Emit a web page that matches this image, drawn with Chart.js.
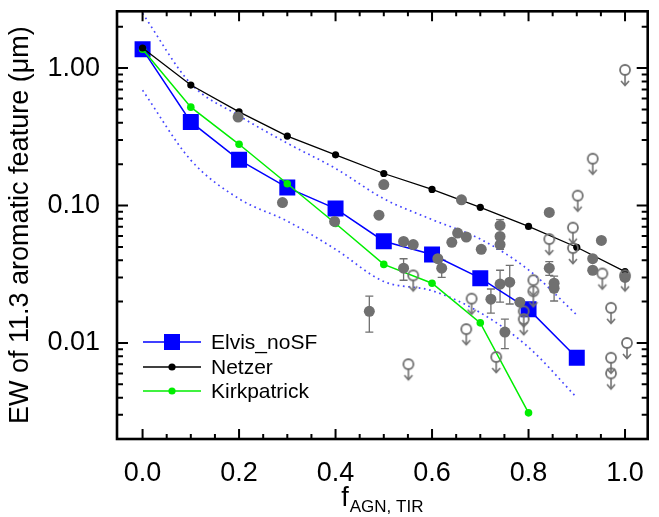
<!DOCTYPE html>
<html><head><meta charset="utf-8">
<script src="https://cdn.jsdelivr.net/npm/chart.js@4/dist/chart.umd.min.js"></script>
<style>html,body{margin:0;padding:0;background:#fff;overflow:hidden}canvas{display:block}</style>
</head><body>
<canvas id="c" width="659" height="517"></canvas>
<script>
// ---------------- data ----------------
const xTickVals = [0.0, 0.2, 0.4, 0.6, 0.8, 1.0];
const xTickLabels = ['0.0', '0.2', '0.4', '0.6', '0.8', '1.0'];
const yTickVals = [0.01, 0.1, 1];
const yTickLabels = ['0.01', '0.10', '1.00'];

const elvisX = [0.0, 0.1, 0.2, 0.3, 0.4, 0.5, 0.6, 0.7, 0.8, 0.9];
const elvisY = [1.37, 0.406, 0.215, 0.135, 0.095, 0.055, 0.044, 0.0296, 0.0176, 0.0078];
const elvisUpper = [2.5, 0.77, 0.45, 0.284, 0.186, 0.112, 0.079, 0.057, 0.034, 0.016];
const elvisLower = [0.69, 0.214, 0.112, 0.077, 0.048, 0.028, 0.024, 0.0166, 0.0093, 0.0040];

const netzerX = [0.0, 0.1, 0.2, 0.3, 0.4, 0.5, 0.6, 0.7, 0.8, 0.9, 1.0];
const netzerY = [1.40, 0.753, 0.48, 0.32, 0.234, 0.171, 0.131, 0.097, 0.0705, 0.0497, 0.033];

const kirkX = [0.0, 0.1, 0.2, 0.3, 0.4, 0.5, 0.6, 0.7, 0.8];
const kirkY = [1.37, 0.52, 0.279, 0.144, 0.074, 0.0373, 0.0272, 0.014, 0.0031];

// detections (filled circles) with optional error bars
const detX  = [0.198, 0.29, 0.398, 0.49, 0.50, 0.47, 0.541, 0.561, 0.541, 0.612, 0.62, 0.641, 0.653, 0.671, 0.661, 0.702, 0.722, 0.741, 0.741, 0.741, 0.741, 0.761, 0.751, 0.782, 0.843, 0.843, 0.853, 0.853, 0.933, 0.933, 0.951, 1.0];
const detY  = [0.44, 0.105, 0.0766, 0.085, 0.142, 0.017, 0.0548, 0.052, 0.035, 0.041, 0.035, 0.054, 0.063, 0.059, 0.110, 0.048, 0.0208, 0.0716, 0.0596, 0.052, 0.0268, 0.0277, 0.012, 0.0198, 0.089, 0.035, 0.0272, 0.025, 0.041, 0.0338, 0.0557, 0.030];
const detLo = [null, null, null, null, null, 0.012, null, null, 0.0286, null, 0.030, null, null, null, null, null, 0.0165, null, null, 0.048, 0.0198, 0.0192, 0.0091, null, null, 0.031, null, 0.0202, null, null, null, null];
const detHi = [null, null, null, null, null, 0.0219, null, null, 0.041, null, 0.040, null, null, null, null, null, 0.0247, 0.079, null, null, 0.0338, 0.0367, 0.0149, null, null, 0.039, null, 0.0306, null, null, null, null];

// upper limits (open circles with arrows)
const limX = [1.0, 0.933, 0.902, 0.892, 0.892, 0.843, 0.953, 1.0, 0.971, 1.004, 0.971, 0.971, 0.81, 0.81, 0.79, 0.79, 0.682, 0.671, 0.733, 0.551, 0.561];
const limY = [0.97, 0.219, 0.118, 0.069, 0.049, 0.057, 0.032, 0.031, 0.018, 0.010, 0.0078, 0.006, 0.0286, 0.0238, 0.017, 0.0149, 0.021, 0.0126, 0.0079, 0.0070, 0.031];

const seriesNames = ['Elvis_noSF', 'Netzer', 'Kirkpatrick'];
const yTitle = 'EW of 11.3 aromatic feature (\u03bcm)';
const xTitleMain = 'f';
const xTitleSub = 'AGN, TIR';

// ---------------- styling ----------------
const FONT = "'Liberation Sans', Arial, sans-serif";
const GRAY = 'rgb(112,112,112)';
const BLUE = '#0000ff';
const GREEN = '#00ee00';
const DOTBLUE = 'rgb(70,70,255)';

const pts = (xs, ys) => xs.map((x, i) => ({x: x, y: ys[i]}));

function makeLimitIcon() {
  const c = document.createElement('canvas');
  c.width = 16; c.height = 44;
  const g = c.getContext('2d');
  g.strokeStyle = GRAY; g.lineWidth = 1.8;
  g.beginPath(); g.arc(8, 22, 5, 0, 2 * Math.PI); g.stroke();
  g.lineWidth = 1.6;
  g.beginPath(); g.moveTo(8, 27); g.lineTo(8, 37); g.stroke();
  g.beginPath(); g.moveTo(4, 33); g.lineTo(8, 37.5); g.lineTo(12, 33); g.stroke();
  return c;
}
const limitIcon = makeLimitIcon();

const errorBars = {
  id: 'errorBars',
  beforeDatasetsDraw(chart) {
    const ctx = chart.ctx, xs = chart.scales.x, ys = chart.scales.y;
    ctx.save();
    ctx.strokeStyle = GRAY; ctx.lineWidth = 1.3;
    detX.forEach((x, i) => {
      if (detLo[i] == null && detHi[i] == null) return;
      const lo = detLo[i] != null ? detLo[i] : detY[i];
      const hi = detHi[i] != null ? detHi[i] : detY[i];
      const px = xs.getPixelForValue(x);
      const pLo = ys.getPixelForValue(lo), pHi = ys.getPixelForValue(hi);
      ctx.beginPath(); ctx.moveTo(px, pLo); ctx.lineTo(px, pHi); ctx.stroke();
      ctx.beginPath();
      if (detLo[i] != null) { ctx.moveTo(px - 4, pLo); ctx.lineTo(px + 4, pLo); }
      if (detHi[i] != null) { ctx.moveTo(px - 4, pHi); ctx.lineTo(px + 4, pHi); }
      ctx.stroke();
    });
    ctx.restore();
  }
};

const frame = {
  id: 'frame',
  afterDraw(chart) {
    const ctx = chart.ctx, xs = chart.scales.x, ys = chart.scales.y;
    const {left, right, top, bottom} = chart.chartArea;
    ctx.save();
    ctx.strokeStyle = '#000';
    ctx.lineWidth = 2;
    ctx.beginPath();
    for (let k = 0; k <= 20; k++) {
      const v = k * 0.05;
      const px = xs.getPixelForValue(v);
      const len = (k % 4 === 0) ? 10 : 5;
      ctx.moveTo(px, bottom); ctx.lineTo(px, bottom - len);
      ctx.moveTo(px, top); ctx.lineTo(px, top + len);
    }
    for (let e = -3; e <= 0; e++) {
      for (let m = 1; m <= 9; m++) {
        const v = m * Math.pow(10, e);
        if (v < ys.min || v > ys.max) continue;
        const py = ys.getPixelForValue(v);
        const len = (m === 1) ? 11 : 6;
        ctx.moveTo(left, py); ctx.lineTo(left + len, py);
        ctx.moveTo(right, py); ctx.lineTo(right - len, py);
      }
    }
    ctx.stroke();
    ctx.lineWidth = 2.6;
    ctx.strokeRect(left, top, right - left, bottom - top);

    // x-axis title with subscript
    ctx.fillStyle = '#000';
    ctx.textBaseline = 'alphabetic';
    ctx.font = '27px ' + FONT;
    const wMain = ctx.measureText(xTitleMain).width;
    ctx.font = '17px ' + FONT;
    const wSub = ctx.measureText(xTitleSub).width;
    const cx = (left + right) / 2;
    const x0 = cx - (wMain + 1 + wSub) / 2;
    ctx.font = '27px ' + FONT;
    ctx.fillText(xTitleMain, x0, 506);
    ctx.font = '17px ' + FONT;
    ctx.fillText(xTitleSub, x0 + wMain + 1, 512);

    // legend
    const lx0 = 143, lx1 = 201, mx = 172, tx = 211;
    const rows = [
      {y: 342, color: BLUE, marker: 'rect'},
      {y: 367, color: '#000', marker: 'dot'},
      {y: 391, color: GREEN, marker: 'dot'}
    ];
    ctx.font = '21px ' + FONT;
    ctx.textBaseline = 'middle';
    rows.forEach((r, i) => {
      ctx.strokeStyle = r.color; ctx.lineWidth = 1.5;
      ctx.beginPath(); ctx.moveTo(lx0, r.y); ctx.lineTo(lx1, r.y); ctx.stroke();
      ctx.fillStyle = r.color;
      if (r.marker === 'rect') ctx.fillRect(mx - 8, r.y - 8, 16, 16);
      else { ctx.beginPath(); ctx.arc(mx, r.y, 3.6, 0, 2 * Math.PI); ctx.fill(); }
      ctx.fillStyle = '#000';
      ctx.fillText(seriesNames[i], tx, r.y + 1);
    });
    ctx.restore();
  }
};

new Chart(document.getElementById('c'), {
  type: 'scatter',
  data: {
    datasets: [
      {label: 'limits', data: pts(limX, limY), pointStyle: limitIcon, showLine: false, order: 0},
      {label: 'detections', data: pts(detX, detY), pointStyle: 'circle', pointRadius: 5.5,
        backgroundColor: GRAY, borderColor: GRAY, borderWidth: 0, showLine: false, order: 1},
      {label: seriesNames[1], data: pts(netzerX, netzerY), showLine: true, borderColor: '#000', borderWidth: 1.3,
        pointRadius: 3.6, pointBackgroundColor: '#000', pointBorderWidth: 0, order: 2},
      {label: seriesNames[2], data: pts(kirkX, kirkY), showLine: true, borderColor: GREEN, borderWidth: 1.5,
        pointRadius: 3.8, pointBackgroundColor: GREEN, pointBorderWidth: 0, order: 3},
      {label: seriesNames[0], data: pts(elvisX, elvisY), showLine: true, borderColor: BLUE, borderWidth: 1.5,
        pointStyle: 'rect', pointRadius: 11.3, pointBackgroundColor: BLUE, pointBorderWidth: 0, order: 4},
      {label: 'upper', data: pts(elvisX, elvisUpper), showLine: true, borderColor: DOTBLUE, borderWidth: 1.7,
        borderDash: [1.7, 3.6], pointRadius: 0, cubicInterpolationMode: 'monotone', order: 5},
      {label: 'lower', data: pts(elvisX, elvisLower), showLine: true, borderColor: DOTBLUE, borderWidth: 1.7,
        borderDash: [1.7, 3.6], pointRadius: 0, cubicInterpolationMode: 'monotone', order: 6}
    ]
  },
  options: {
    responsive: false,
    devicePixelRatio: 1,
    animation: false,
    layout: {padding: {top: 8, right: 1, left: 0, bottom: 0}},
    plugins: {legend: {display: false}, tooltip: {enabled: false}},
    scales: {
      x: {
        type: 'linear', min: -0.053, max: 1.047,
        grid: {display: false}, border: {display: false},
        afterBuildTicks: s => { s.ticks = xTickVals.map(v => ({value: v})); },
        afterFit: s => { s.height = 78; s.paddingLeft = 0; s.paddingRight = 0; },
        ticks: {autoSkip: false, maxRotation: 0, padding: 10, color: '#000',
          font: {family: FONT, size: 27},
          callback: (v, i) => xTickLabels[i]}
      },
      y: {
        type: 'logarithmic', min: 0.002, max: 2.59,
        grid: {display: false}, border: {display: false},
        afterBuildTicks: s => { s.ticks = yTickVals.map(v => ({value: v})); },
        afterFit: s => { s.width = 117; s.paddingTop = 0; s.paddingBottom = 0; },
        ticks: {autoSkip: false, padding: 9, color: '#000',
          font: {family: FONT, size: 27},
          callback: (v, i) => yTickLabels[i]},
        title: {display: true, text: yTitle, color: '#000', font: {family: FONT, size: 27},
          padding: {top: 4, bottom: 0}}
      }
    }
  },
  plugins: [errorBars, frame]
});
</script>
</body></html>
